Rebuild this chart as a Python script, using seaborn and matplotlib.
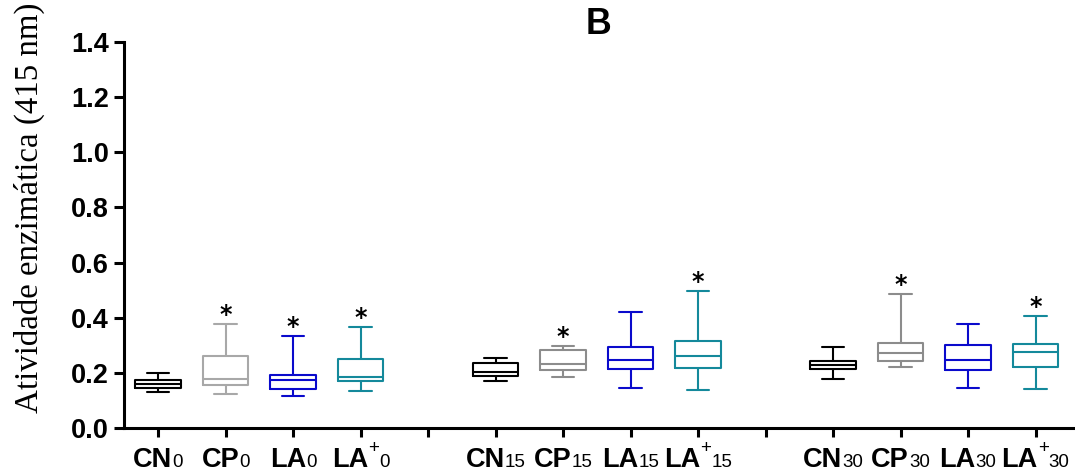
import numpy as np
import pandas as pd
import seaborn as sns
import matplotlib
matplotlib.use("Agg")
import matplotlib.pyplot as plt
from matplotlib.offsetbox import TextArea, HPacker, AnnotationBbox

# Treatments and sampling days
treatments = ["CN", "CP", "LA", "LA+"]
days = ["0", "15", "30"]

# Five-number summaries per day: [min, Q1, median, Q3, max]
cn_stats = [
    [0.129, 0.145, 0.159, 0.173, 0.198],
    [0.169, 0.187, 0.202, 0.236, 0.254],
    [0.176, 0.213, 0.228, 0.242, 0.294],
]
cp_stats = [
    [0.121, 0.155, 0.177, 0.259, 0.377],
    [0.185, 0.210, 0.230, 0.281, 0.297],
    [0.222, 0.243, 0.270, 0.308, 0.487],
]
la_stats = [
    [0.116, 0.142, 0.173, 0.193, 0.333],
    [0.144, 0.212, 0.246, 0.294, 0.419],
    [0.144, 0.211, 0.247, 0.301, 0.377],
]
lap_stats = [
    [0.133, 0.170, 0.185, 0.250, 0.365],
    [0.137, 0.218, 0.259, 0.315, 0.498],
    [0.139, 0.222, 0.276, 0.304, 0.406],
]

# Significance marks (1 = asterisk above the box) per day
cn_sig = [0, 0, 0]
cp_sig = [1, 1, 1]
la_sig = [1, 0, 0]
lap_sig = [1, 1, 1]

stats = {"CN": cn_stats, "CP": cp_stats, "LA": la_stats, "LA+": lap_stats}
sig = {"CN": cn_sig, "CP": cp_sig, "LA": la_sig, "LA+": lap_sig}

colors = {
    "CN": ["#000000", "#000000", "#000000"],
    "CP": ["#a8a8a8", "#8c8c8c", "#8c8c8c"],
    "LA": ["#0a0acc", "#0a0acc", "#0a0acc"],
    "LA+": ["#14899b", "#14899b", "#14899b"],
}

rows = []
palette = {}
marks = []
for g, day in enumerate(days):
    for t, tr in enumerate(treatments):
        pos = g * 5 + t
        key = f"{tr}{day}"
        palette[key] = colors[tr][g]
        for v in stats[tr][g]:
            rows.append({"pos": pos, "value": v, "box": key})
        if sig[tr][g]:
            marks.append((pos, max(stats[tr][g])))
df = pd.DataFrame(rows)

sns.set_style("ticks")
plt.rcParams["font.family"] = ["Liberation Sans", "DejaVu Sans"]
plt.rcParams["text.color"] = "black"
plt.rcParams["axes.labelcolor"] = "black"

fig = plt.figure(figsize=(10.75, 4.75), dpi=100)
ax = fig.add_axes([0.1156, 0.0996, 0.8823, 0.8113])

sns.boxplot(
    data=df, x="pos", y="value", hue="box", palette=palette,
    native_scale=True, dodge=False, fill=False, whis=(0, 100),
    width=0.67, linewidth=1.5, legend=False, ax=ax,
)

for pos, top in marks:
    ax.annotate("*", xy=(pos, top), xytext=(0, 1.5), textcoords="offset points",
                ha="center", va="baseline", fontsize=17, fontweight="bold",
                family="DejaVu Sans", color="black")

ax.set_xlim(-0.5, 13.55)
ax.set_ylim(0, 1.4)
ax.set_yticks(np.arange(0, 1.41, 0.2))
ax.set_yticklabels([f"{v:.1f}" for v in np.arange(0, 1.41, 0.2)],
                   fontsize=19.5, fontweight="bold", color="black")
ax.set_xticks(range(14))
ax.set_xticklabels([""] * 14)
ax.set_xlabel("")
ax.set_ylabel("")

for side in ["top", "right"]:
    ax.spines[side].set_visible(False)
for side in ["left", "bottom"]:
    ax.spines[side].set_linewidth(2.2)
    ax.spines[side].set_color("black")
ax.tick_params(axis="y", length=7, width=2.2, pad=4, colors="black")
ax.tick_params(axis="x", length=6.5, width=2.2, colors="black")

# Category labels: bold treatment code, small day index, raised "+"
big = dict(fontsize=19.5, fontweight="bold", color="black")
small = dict(fontsize=13.5, fontweight="normal", color="black")
for g, day in enumerate(days):
    for t, tr in enumerate(treatments):
        pos = g * 5 + t
        parts = [TextArea(tr.rstrip("+"), textprops=big)]
        if tr.endswith("+"):
            parts.append(TextArea("+\n", textprops=dict(small, linespacing=0.7)))
        parts.append(TextArea(day, textprops=small))
        pack = HPacker(children=parts, align="baseline", pad=0, sep=0)
        ab = AnnotationBbox(pack, xy=(pos, 0), xycoords=ax.get_xaxis_transform(),
                            xybox=(0, -32.3), boxcoords="offset points",
                            box_alignment=(0.5, 0), frameon=False, pad=0,
                            annotation_clip=False)
        ax.add_artist(ab)

ax.set_title("B", fontsize=25.7, fontweight="bold", pad=3, color="black")
fig.text(0.027, 0.5632, "Atividade enzimática (415 nm)", rotation=90,
         ha="center", va="center", fontsize=23.7, family="Liberation Serif",
         color="black")

fig.savefig("out.png", dpi=100)
